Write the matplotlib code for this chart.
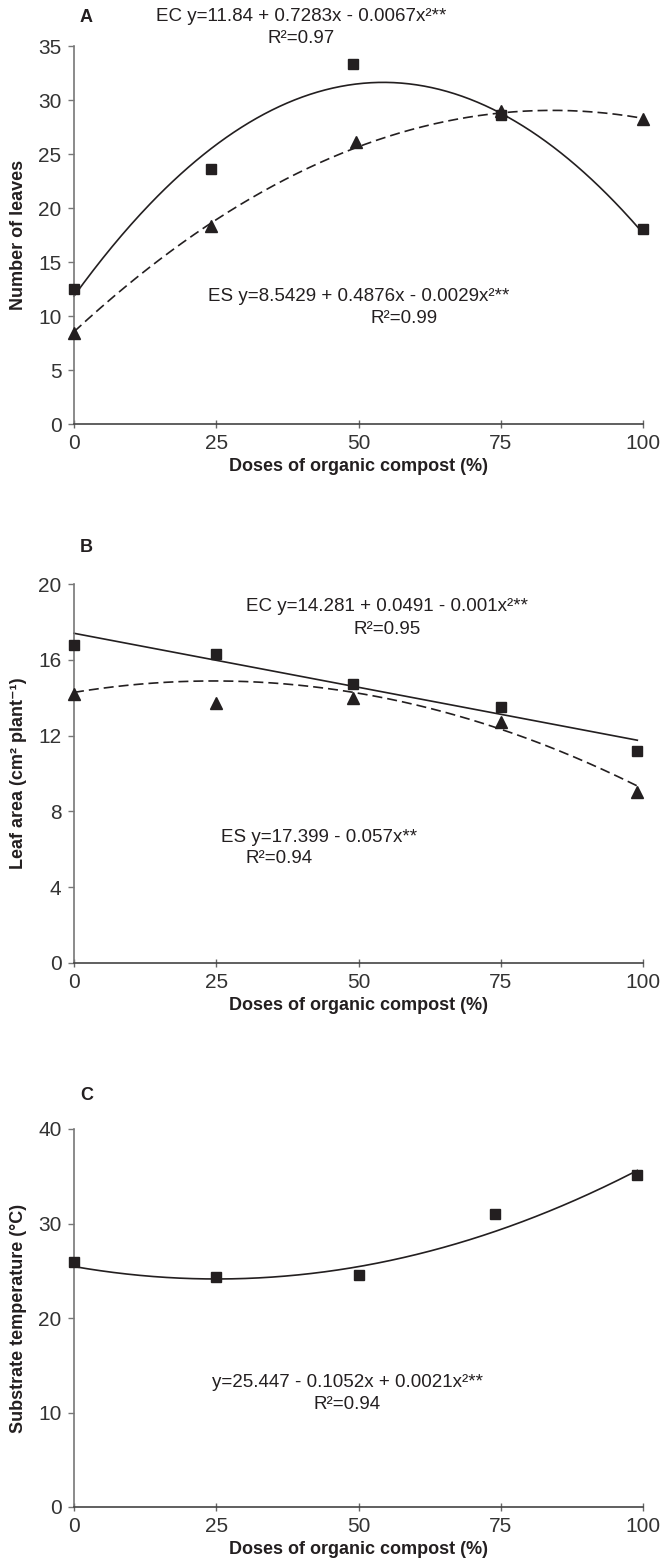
import numpy as np
import matplotlib
matplotlib.use('Agg')
import matplotlib.pyplot as plt

plt.rcParams['font.family'] = ['Liberation Sans', 'DejaVu Sans']

INK = '#231f20'

# panel A - number of leaves
a_x_ec = [0, 24, 49, 75, 100]
a_y_ec = [12.5, 23.6, 33.3, 28.6, 18.1]
a_x_es = [0, 24, 49.5, 75, 100]
a_y_es = [8.4, 18.3, 26.1, 29.0, 28.2]
a_fit_ec = [-0.0067, 0.7283, 11.84]
a_fit_es = [-0.0029, 0.4876, 8.5429]

# panel B - leaf area
b_x_ec = [0, 25, 49, 75, 99]
b_y_ec = [16.8, 16.3, 14.7, 13.5, 11.2]
b_x_es = [0, 25, 49, 75, 99]
b_y_es = [14.2, 13.7, 14.0, 12.7, 9.05]
b_fit_solid = [-0.057, 17.399]
b_fit_dash = [-0.001, 0.0491, 14.281]

# panel C - substrate temperature
c_x = [0, 25, 50, 74, 99]
c_y = [25.9, 24.3, 24.6, 31.0, 35.1]
c_fit = [0.0021, -0.1052, 25.447]

xticks = [0, 25, 50, 75, 100]

fig = plt.figure(figsize=(6.61, 15.67), dpi=100)
L, W = 74/661, 569/661
axA = fig.add_axes([L, 1-424/1567, W, 378/1567])
axB = fig.add_axes([L, 1-963/1567, W, 379/1567])
axC = fig.add_axes([L, 1-1507/1567, W, 378/1567])


def style(ax, ymax, step, ylabel):
    ax.set_xlim(0, 100)
    ax.set_ylim(0, ymax)
    ax.set_xticks(xticks)
    ax.set_yticks(np.arange(0, ymax + 0.1, step))
    for s in ['top', 'right']:
        ax.spines[s].set_visible(False)
    ax.spines['left'].set_color('#777777')
    ax.spines['bottom'].set_color('#444444')
    ax.spines['left'].set_linewidth(1.2)
    ax.spines['bottom'].set_linewidth(1.2)
    ax.tick_params(axis='y', direction='out', length=4, width=1, color='#777777',
                   labelsize=15, labelcolor='#333333', pad=5)
    ax.tick_params(axis='x', direction='inout', length=6, width=1, color='#666666',
                   labelsize=15, labelcolor='#333333', pad=4)
    ax.set_xlabel('Doses of organic compost (%)', fontsize=13, fontweight='bold',
                  color=INK, labelpad=4)
    ax.set_ylabel(ylabel, fontsize=13, fontweight='bold', color=INK)
    ax.yaxis.set_label_coords(-0.082, 0.5)


xs = np.linspace(0, 100, 300)
xs99 = np.linspace(0, 99, 300)
EQ = 13.5

# A
axA.plot(xs, np.polyval(a_fit_ec, xs), color=INK, lw=1.2, clip_on=False)
axA.plot(xs, np.polyval(a_fit_es, xs), color=INK, lw=1.2, ls=(0, (6, 3)), clip_on=False)
axA.plot(a_x_ec, a_y_ec, 's', color=INK, ms=7, clip_on=False, zorder=5)
axA.plot(a_x_es, a_y_es, '^', color=INK, ms=8.5, clip_on=False, zorder=5)
style(axA, 35, 5, 'Number of leaves')
axA.text(40, 37.7, 'EC y=11.84 + 0.7283x - 0.0067x²**', ha='center', va='center',
         fontsize=EQ, color=INK, clip_on=False)
axA.text(40, 35.7, 'R²=0.97', ha='center', va='center', fontsize=EQ, color=INK, clip_on=False)
axA.text(50, 11.8, 'ES y=8.5429 + 0.4876x - 0.0029x²**', ha='center', va='center',
         fontsize=EQ, color=INK)
axA.text(58, 9.8, 'R²=0.99', ha='center', va='center', fontsize=EQ, color=INK)

# B
axB.plot(xs99, np.polyval(b_fit_solid, xs99), color=INK, lw=1.2, clip_on=False)
axB.plot(xs99, np.polyval(b_fit_dash, xs99), color=INK, lw=1.2, ls=(0, (6, 3)), clip_on=False)
axB.plot(b_x_ec, b_y_ec, 's', color=INK, ms=7, clip_on=False, zorder=5)
axB.plot(b_x_es, b_y_es, '^', color=INK, ms=8.5, clip_on=False, zorder=5)
style(axB, 20, 4, 'Leaf area (cm² plant⁻¹)')
axB.text(55, 18.8, 'EC y=14.281 + 0.0491 - 0.001x²**', ha='center', va='center',
         fontsize=EQ, color=INK)
axB.text(55, 17.6, 'R²=0.95', ha='center', va='center', fontsize=EQ, color=INK)
axB.text(43, 6.6, 'ES y=17.399 - 0.057x**', ha='center', va='center', fontsize=EQ, color=INK)
axB.text(36, 5.5, 'R²=0.94', ha='center', va='center', fontsize=EQ, color=INK)

# C
axC.plot(xs99, np.polyval(c_fit, xs99), color=INK, lw=1.2, clip_on=False)
axC.plot(c_x, c_y, 's', color=INK, ms=7, clip_on=False, zorder=5)
style(axC, 40, 10, 'Substrate temperature (°C)')
axC.text(48, 13.2, 'y=25.447 - 0.1052x + 0.0021x²**', ha='center', va='center',
         fontsize=EQ, color=INK)
axC.text(48, 10.8, 'R²=0.94', ha='center', va='center', fontsize=EQ, color=INK)

for lab, ypx in [('A', 17), ('B', 548), ('C', 1095)]:
    fig.text(80/661, 1 - ypx/1567, lab, fontsize=13, fontweight='bold', color=INK,
             ha='left', va='center')

fig.savefig('out.png', dpi=100)
